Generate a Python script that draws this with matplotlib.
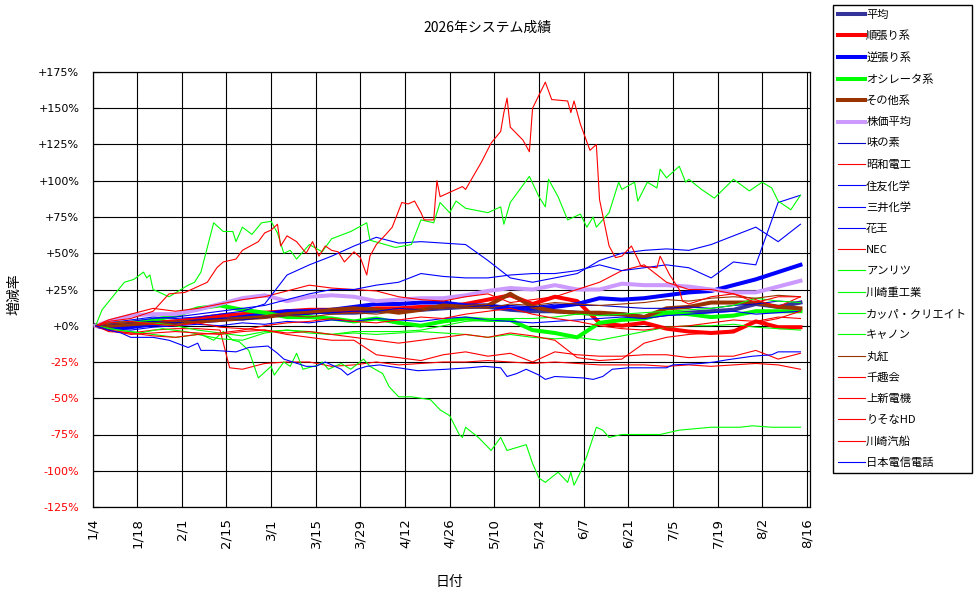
import numpy as np
import matplotlib
matplotlib.use('Agg')
import matplotlib.pyplot as plt
from matplotlib.ticker import FuncFormatter
import matplotlib.dates as mdates

plt.rcParams['font.family'] = ['Noto Sans CJK JP', 'DejaVu Sans']

# day offsets from 2026-01-04, weekly readings
week_days = [1, 5, 12, 19, 26, 33, 40, 47, 54, 61, 68, 75, 82, 89, 96, 103, 110,
             117, 124, 131, 138, 145, 152, 159, 166, 173, 180, 187, 194, 201, 208, 215, 222]

# thick summary lines (%)
avg_vals = [0, 0, 1, 2, 3, 4, 5, 6, 7, 9, 10,
            9, 9, 10, 11, 11, 12, 13, 13, 11, 10, 10,
            9, 8, 8, 6, 8, 9, 10, 11, 15, 13, 16]
trend_vals = [0, -1, 0, 2, 3, 5, 7, 8, 9, 10, 11,
              11, 10, 12, 12, 13, 13, 15, 18, 21, 15, 20,
              17, 2, 0, 2, -2, -4, -5, -4, 3, -1, -1]
contra_vals = [0, -2, -1, 1, 2, 3, 4, 6, 8, 10, 10,
               11, 13, 15, 15, 16, 16, 14, 14, 12, 12, 13,
               15, 19, 18, 19, 21, 23, 24, 28, 32, 37, 42]
osc_vals = [0, 1, 2, 4, 7, 12, 14, 11, 9, 6, 6,
            5, 3, 5, 2, 0, 3, 5, 4, 4, -3, -5,
            -8, 2, 4, 5, 9, 8, 6, 7, 10, 10, 10]
other_vals = [0, 0, 1, 2, 2, 3, 4, 5, 6, 8, 9,
              11, 12, 11, 9, 11, 14, 13, 14, 22, 13, 10,
              9, 9, 8, 6, 12, 13, 16, 16, 16, 13, 12]
stock_vals = [0, 3, 7, 8, 8, 11, 15, 19, 21, 17, 20,
              21, 20, 17, 18, 19, 19, 21, 24, 26, 25, 28,
              25, 25, 29, 28, 28, 27, 25, 23, 23, 27, 31]

# individual stocks on the weekly grid
ajinomoto = [0, 1, 2, 3, 2, 4, 5, 4, 6, 7, 8,
             9, 10, 10, 12, 11, 12, 13, 14, 14, 13, 15,
             14, 14, 13, 12, 12, 13, 12, 14, 15, 17, 16]
showa_denko = [0, 4, 8, 12, 10, 12, 15, 18, 20, 24, 28,
               26, 25, 24, 20, 18, 17, 20, 22, 16, 18, 20,
               25, 30, 38, 42, 30, 25, 25, 22, 18, 13, 20]
sumitomo_chem = [0, 1, 3, 5, 6, 8, 10, 12, 14, 18, 22,
                 25, 25, 28, 30, 36, 34, 33, 33, 35, 36, 36,
                 38, 42, 38, 40, 42, 40, 33, 44, 42, 85, 90]
mitsui_chem = [0, -2, -3, -1, 0, 1, 0, 2, 1, 3, 2,
               4, 3, 5, 4, 3, 5, 6, 4, 3, 2, 3,
               4, 5, 6, 5, 7, 8, 9, 10, 8, 9, 10]
kao = [0, 2, 4, 6, 5, 6, 8, 10, 15, 35, 42,
       48, 55, 61, 57, 58, 57, 56, 45, 33, 30, 33,
       36, 45, 50, 52, 53, 52, 56, 62, 68, 58, 70]
anritsu = [0, 2, 3, 2, 0, -3, -5, -7, -4, -3, -5,
           -6, -4, -4, -4, -3, 0, 3, 4, 5, 5, 6,
           8, 7, 8, 9, 10, 11, 12, 14, 19, 17, 16]
kawasaki_heavy = [0, -2, -4, -6, -8, -6, -9, -10, -5, -3, -4,
                  -6, -5, -6, -5, -4, -5, -6, -8, -6, -8, -9,
                  -8, -10, -7, -4, -1, 0, 0, 1, -1, -2, -3]
marubeni = [0, 1, 2, 2, 3, 3, 4, 5, 6, 7, 6,
            8, 9, 8, 10, 11, 12, 13, 12, 15, 14, 16,
            15, 14, 15, 16, 18, 17, 19, 20, 19, 21, 20]
senshukai = [0, -3, -6, -5, -4, -5, -6, -4, -3, -6, -8,
             -10, -10, -20, -22, -24, -20, -18, -21, -19, -25, -18,
             -20, -21, -21, -20, -20, -22, -21, -21, -17, -23, -19]
joshin = [0, 2, 3, 1, 0, 2, -1, -2, -3, -5, -4,
          -6, -8, -10, -12, -10, -8, -6, -8, -5, -7, -10,
          -22, -24, -23, -12, -8, -6, -5, -3, 2, 5, 10]
resona = [0, -3, -5, -7, -8, -6, -5, -3, 0, 2, 3,
          5, 3, 2, 4, 6, 5, 8, 10, 12, 8, 5,
          3, 0, -2, -3, -1, 0, 2, 4, 3, 6, 5]

# stocks read at finer spacing (day offset, %)
nec_days = [1, 5, 12, 19, 26, 33, 40, 43, 47, 54, 61, 68, 75, 82, 89, 96, 103,
            110, 117, 124, 131, 138, 145, 152, 159, 166, 173, 180, 187, 194, 201, 208, 215, 222]
nec_vals = [0, -4, -5, -3, -2, -2, -3, -29, -30, -26, -25, -25, -28, -27, -25, -27, -26,
            -25, -25, -24, -25, -26, -25, -26, -27, -27, -27, -28, -27, -28, -27, -26, -27, -30]

kawasaki_kisen_days = [1, 5, 12, 19, 24, 29, 33, 36, 39, 41, 45, 47, 52, 54, 56, 58, 59, 61,
                       64, 67, 69, 71, 73, 75, 77, 79, 82, 84, 86, 87, 89, 92, 94, 97, 99,
                       101, 103, 104, 107, 108, 109, 112, 116, 117, 122, 125, 128, 129, 130,
                       131, 135, 137, 138, 142, 144, 149, 150, 151, 153, 156, 158, 159, 162,
                       164, 166, 169, 171, 172, 177, 178, 181, 184, 185, 187, 194, 201, 208, 215, 222]
kawasaki_kisen_vals = [0, 3, 5, 10, 22, 23, 27, 30, 40, 44, 46, 52, 58, 64, 66, 70, 55, 62,
                       58, 50, 58, 48, 55, 52, 51, 44, 51, 47, 35, 48, 56, 63, 68, 85, 84,
                       86, 78, 73, 73, 100, 89, 92, 96, 94, 113, 126, 134, 147, 157,
                       137, 128, 120, 150, 168, 156, 155, 147, 155, 139, 121, 125, 87, 55,
                       47, 48, 55, 46, 41, 40, 48, 35, 25, 17, 15, 20, 22, 16, 20, 20]

canon_days = [1, 3, 10, 13, 16, 17, 18, 19, 23, 24, 30, 32, 34, 38, 41, 44, 45, 47, 50, 53,
              56, 58, 60, 62, 64, 68, 72, 75, 81, 86, 87, 95, 100, 103, 107, 109, 112, 114,
              117, 124, 128, 129, 131, 137, 140, 142, 143, 146, 149, 153, 155, 157, 158, 162,
              165, 166, 170, 171, 174, 177, 178, 180, 184, 186, 187, 191, 195, 201, 206, 210,
              213, 215, 219, 222]
canon_vals = [0, 11, 30, 32, 37, 33, 35, 25, 21, 20, 28, 30, 37, 71, 65, 65, 58, 68, 63, 71,
              72, 64, 50, 52, 46, 56, 51, 60, 65, 71, 59, 54, 56, 73, 71, 85, 78, 86,
              81, 78, 82, 70, 85, 103, 89, 82, 101, 89, 73, 77, 68, 75, 68, 78,
              99, 94, 99, 86, 99, 95, 108, 102, 110, 99, 101, 94, 88, 101, 93, 99,
              95, 86, 80, 90]

kappa_days = [1, 8, 15, 22, 29, 34, 38, 41, 44, 46, 49, 52, 55, 56, 57, 60, 62, 64, 66, 71,
              72, 74, 78, 81, 85, 87, 91, 93, 96, 100, 106, 109, 112, 115, 116, 117, 121,
              125, 128, 130, 136, 138, 140, 142, 146, 149, 150, 151, 153, 155, 158, 160,
              162, 166, 178, 184, 194, 203, 207, 213, 222]
kappa_vals = [0, -3, -5, -2, -4, -6, -10, -4, -10, -11, -17, -36, -30, -28, -34, -25, -28, -19,
              -30, -27, -25, -30, -26, -30, -23, -28, -33, -42, -49, -49, -51, -58, -62, -75,
              -77, -70, -77, -86, -77, -86, -82, -95, -105, -108, -101, -108, -101, -110,
              -101, -90, -70, -72, -77, -75, -75, -72, -70, -70, -69, -70, -70]

ntt_days = [1, 5, 9, 12, 19, 24, 30, 33, 34, 38, 45, 49, 55, 58, 60, 67, 70, 73, 78, 80, 83,
            86, 90, 96, 102, 111, 118, 123, 128, 130, 133, 136, 140, 142, 145, 154, 157,
            160, 163, 168, 175, 180, 182, 191, 195, 199, 207, 213, 215, 222]
ntt_vals = [0, -3, -5, -8, -8, -10, -15, -12, -17, -17, -18, -15, -14, -19, -23, -28, -28,
            -25, -30, -34, -30, -28, -27, -29, -31, -30, -29, -28, -29, -35, -33, -30, -34,
            -37, -35, -36, -37, -35, -30, -29, -29, -29, -27, -26, -25, -23.5, -21, -20,
            -18, -18]

start = np.datetime64('2026-01-04')


def to_dates(days):
    return start + np.array(days).astype('timedelta64[D]')


fig = plt.figure(figsize=(9.76, 5.99), dpi=100)
ax = fig.add_axes([92.5 / 976, 1 - 507 / 599, (810 - 92.5) / 976, (507 - 72) / 599])

wd = to_dates(week_days)
thick = 2.9
thin = 0.8
series = [
    ('平均', wd, avg_vals, '#333399', thick),
    ('順張り系', wd, trend_vals, '#FF0000', thick),
    ('逆張り系', wd, contra_vals, '#0000FF', thick),
    ('オシレータ系', wd, osc_vals, '#00FF00', thick),
    ('その他系', wd, other_vals, '#993300', thick),
    ('株価平均', wd, stock_vals, '#CC99FF', thick),
    ('味の素', wd, ajinomoto, '#0000CC', thin),
    ('昭和電工', wd, showa_denko, '#FF0000', thin),
    ('住友化学', wd, sumitomo_chem, '#0000FF', thin),
    ('三井化学', wd, mitsui_chem, '#0000FF', thin),
    ('花王', wd, kao, '#0000FF', thin),
    ('NEC', to_dates(nec_days), nec_vals, '#FF0000', thin),
    ('アンリツ', wd, anritsu, '#00FF00', thin),
    ('川崎重工業', wd, kawasaki_heavy, '#00FF00', thin),
    ('カッパ・クリエイト', to_dates(kappa_days), kappa_vals, '#00FF00', thin),
    ('キャノン', to_dates(canon_days), canon_vals, '#00FF00', thin),
    ('丸紅', wd, marubeni, '#993300', thin),
    ('千趣会', wd, senshukai, '#FF0000', thin),
    ('上新電機', wd, joshin, '#FF0000', thin),
    ('りそなHD', wd, resona, '#FF0000', thin),
    ('川崎汽船', to_dates(kawasaki_kisen_days), kawasaki_kisen_vals, '#FF0000', thin),
    ('日本電信電話', to_dates(ntt_days), ntt_vals, '#0000FF', thin),
]

handles = []
for i, (name, x, y, col, lw) in enumerate(series):
    ln, = ax.plot(x, y, color=col, linewidth=lw, label=name, zorder=3 + i * 0.01)
    handles.append(ln)

ax.set_ylim(-125, 175)
ax.set_yticks(np.arange(-125, 176, 25))
ax.yaxis.set_major_formatter(FuncFormatter(lambda v, p: '%+d%%' % v if v != 0 else '+0%'))

ax.set_xlim(np.datetime64('2026-01-04'), np.datetime64('2026-08-17'))
ax.set_xticks(to_dates(np.arange(0, 225, 14)))
ax.xaxis.set_major_formatter(FuncFormatter(
    lambda v, p: '%d/%d' % (mdates.num2date(v).month, mdates.num2date(v).day)))

ax.grid(True, color='black', linewidth=0.8, zorder=1)
ax.set_axisbelow(True)
for sp in ax.spines.values():
    sp.set_linewidth(0.9)
ax.tick_params(axis='y', direction='in', length=4, labelsize=8, pad=9.5)
ax.tick_params(axis='x', direction='in', length=0, labelsize=9.5, pad=8, labelrotation=90)

for lab in ax.get_yticklabels() + ax.get_xticklabels():
    lab.set_fontfamily('DejaVu Sans')
for lab in ax.get_yticklabels():
    if lab.get_text().startswith('-'):
        lab.set_color('red')

fig.text(487 / 976, 1 - 28 / 599, '2026年システム成績', ha='center', va='center', fontsize=10)
fig.text(14 / 976, 1 - 294 / 599, '増減率', ha='center', va='center', rotation=90, fontsize=10)
fig.text(449 / 976, 1 - 582 / 599, '日付', ha='center', va='center', fontsize=10)

leg = fig.legend(handles=handles, loc='upper left', bbox_to_anchor=(833 / 976, 1 - 5 / 599),
                 bbox_transform=fig.transFigure, fontsize=8.1, frameon=True, fancybox=False,
                 edgecolor='black', framealpha=1, handlelength=2.4, handletextpad=0.15,
                 labelspacing=0.98, borderpad=0.4, borderaxespad=0)
leg.get_frame().set_linewidth(1.0)

fig.savefig('out.png', dpi=100)
